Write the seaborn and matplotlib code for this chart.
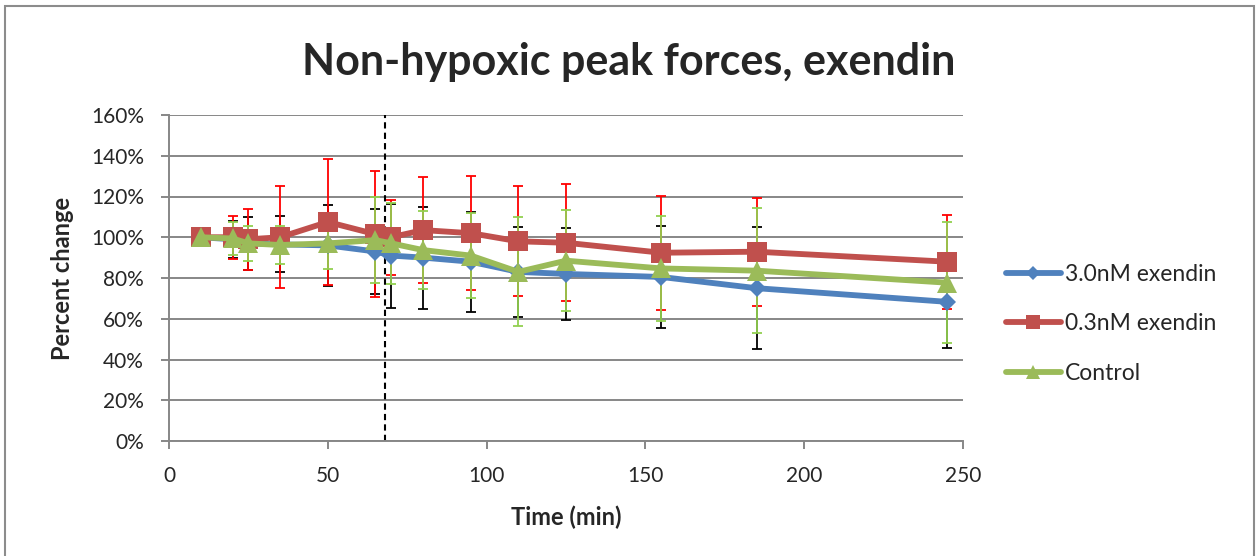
import matplotlib
matplotlib.use('Agg')
import matplotlib.pyplot as plt
import seaborn as sns
from matplotlib.patches import Rectangle
from matplotlib.ticker import PercentFormatter

# 数据（百分比）
time_min = [10, 20, 25, 35, 50, 65, 70, 80, 95, 110, 125, 155, 185, 245]

exendin_30 = [100, 99, 97, 96.5, 96, 93, 91, 90, 88, 83, 82, 80.5, 75, 68.3]
exendin_30_err = [0, 9, 13, 13.8, 20, 21, 25.5, 25, 24.6, 22, 22.7, 25, 30, 22.6]

exendin_03 = [100, 100, 99, 100, 107.5, 101.5, 100, 103.5, 102, 98, 97.3, 92.4, 92.9, 88]
exendin_03_err = [0, 10.6, 15, 25, 31, 31, 18.5, 26, 28, 27, 28.7, 28, 26.5, 23]

control = [100, 99.4, 97, 96.2, 97, 98.6, 97, 93.7, 91, 83, 88.5, 84.7, 83.6, 77.7]
control_err = [0, 8, 8.6, 9.5, 12.8, 21, 19.7, 19.3, 21, 26.7, 24.7, 25.6, 30.7, 29.6]

series = [
    ('3.0nM exendin', exendin_30, exendin_30_err, '#4F81BD', 'D', 9, 'black'),
    ('0.3nM exendin', exendin_03, exendin_03_err, '#C0504D', 's', 14, '#FF0000'),
    ('Control', control, control_err, '#9BBB59', '^', 14, '#92D050'),
]

sns.set_theme(style='white')
plt.rcParams['font.family'] = ['Lato', 'DejaVu Sans']

fig = plt.figure(figsize=(12.58, 5.56), dpi=100)
ax = fig.add_axes([169 / 1258, 1 - 441 / 556, (963 - 169) / 1258, (441 - 115) / 556])

for name, vals, err, color, marker, ms, ecolor in series:
    ax.errorbar(time_min, vals, yerr=err, fmt='none', ecolor=ecolor,
                elinewidth=1.3, capsize=3.8, capthick=1.3, zorder=2)
    sns.lineplot(x=time_min, y=vals, ax=ax, color=color, marker=marker,
                 markersize=ms, markeredgewidth=0, linewidth=4.2,
                 label=name, zorder=3)

# 虚线
ax.axvline(68, color='black', linestyle=(0, (3, 2)), linewidth=1.5, zorder=1)

ax.set_xlim(0, 250)
ax.set_ylim(0, 160)
ax.set_xticks(range(0, 251, 50))
ax.set_yticks(range(0, 161, 20))
ax.yaxis.set_major_formatter(PercentFormatter(decimals=0))
ax.grid(axis='y', color='#878787', linewidth=1.4)
ax.set_axisbelow(True)
for s in ['top', 'right']:
    ax.spines[s].set_visible(False)
for s in ['left', 'bottom']:
    ax.spines[s].set_color('#878787')
    ax.spines[s].set_linewidth(1.4)
ax.tick_params(axis='both', labelsize=15, length=6, width=1.4, color='#878787',
               direction='out', bottom=True, left=True)
ax.tick_params(axis='x', pad=12)
ax.tick_params(axis='y', pad=12)

ax.set_xlabel('Time (min)', fontsize=17, fontweight='bold', va='center')
ax.xaxis.set_label_coords(0.5, (441 - 517) / 326)
ax.set_ylabel('Percent change', fontsize=17, fontweight='bold', va='center')
ax.yaxis.set_label_coords((62 - 169) / 794, 0.5)

fig.text(0.5, 1 - 75 / 556, 'Non-hypoxic peak forces, exendin', ha='center', va='baseline',
         fontsize=31, fontweight='bold')

handles, labels = ax.get_legend_handles_labels()
ax.get_legend().remove()
fig.legend(handles, labels, loc='center left', bbox_to_anchor=(0.792, 1 - 324 / 556),
           frameon=False, fontsize=16.5, handlelength=2.4, handletextpad=0.2,
           labelspacing=1.25, borderaxespad=0, markerscale=0.75)

fig.patches.append(Rectangle((5 / 1258, -0.02), 1249 / 1258, 0.02 + 1 - 6 / 556,
                             transform=fig.transFigure, fill=False,
                             edgecolor='#8C8C8C', linewidth=1.5))

fig.savefig('out.png', dpi=100)
